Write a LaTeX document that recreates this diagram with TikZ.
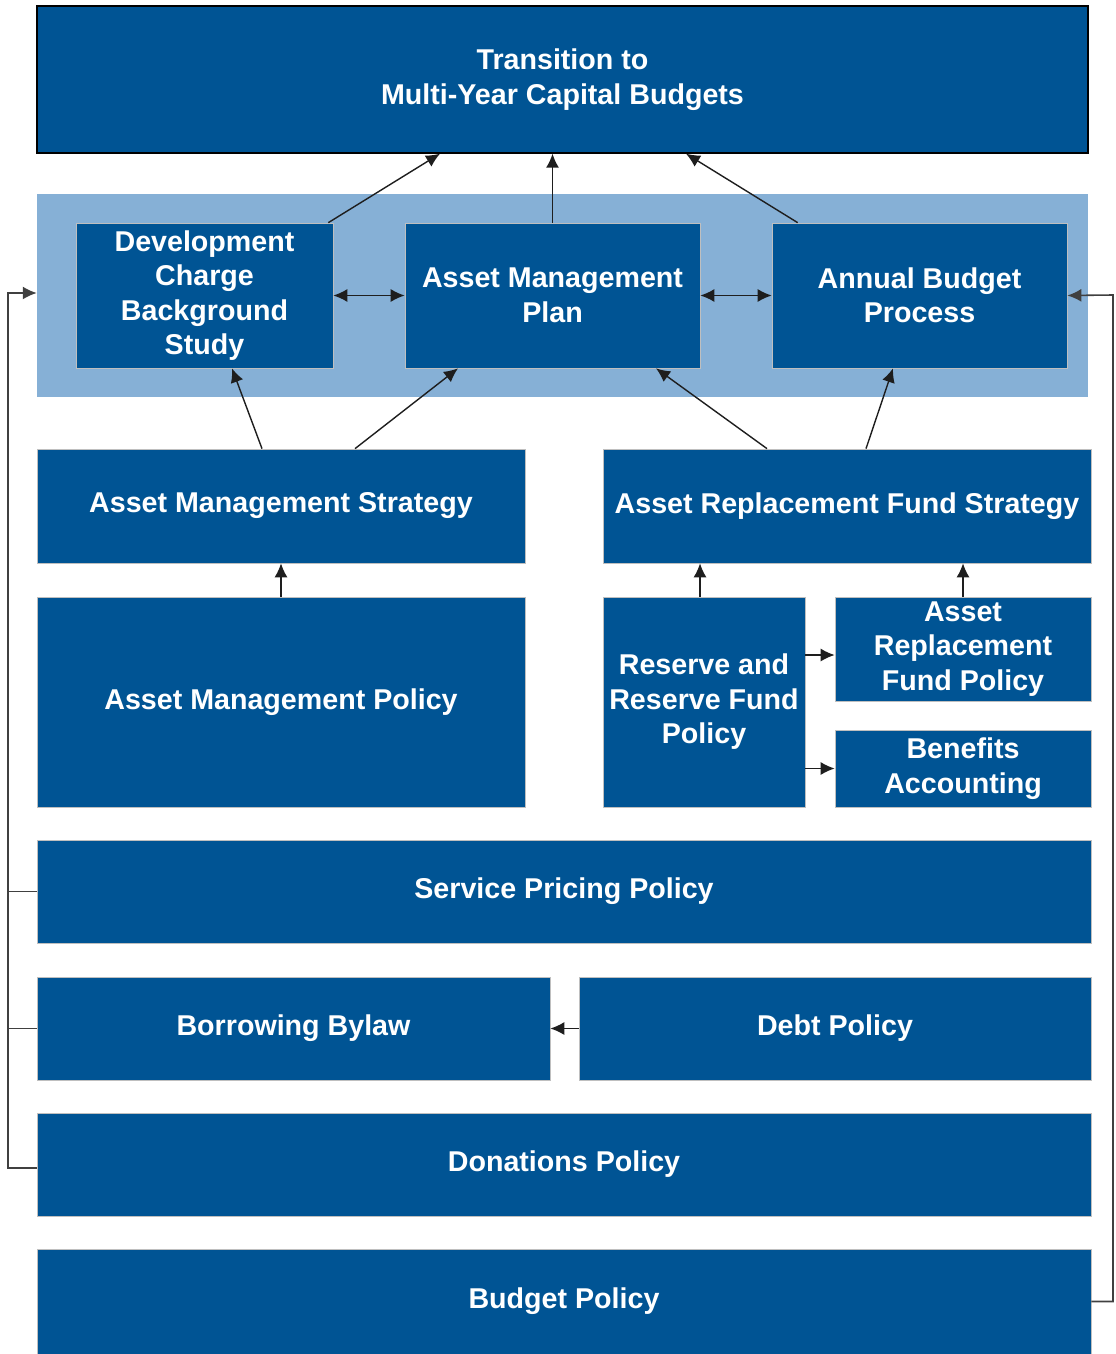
\documentclass[tikz,border=0pt]{standalone}
\usepackage{fontspec}
\setmainfont{Liberation Sans}
\usetikzlibrary{arrows.meta}
\definecolor{navy}{RGB}{0,84,148}
\definecolor{sky}{RGB}{134,176,214}
\definecolor{wire}{RGB}{30,30,30}
\tikzset{
	box/.style={shape=rectangle, fill=navy, draw=black!25, line width=0.4pt, text=white, align=center, inner sep=0pt,
		font=\fontsize{16.3}{19.6}\selectfont\bfseries},
	band/.style={shape=rectangle, fill=sky, inner sep=0pt},
	tip/.style={-{Latex[length=0.28cm,width=0.26cm]}},
	link/.style={draw=wire, line width=0.8pt, tip},
	both/.style={link, {Latex[length=0.28cm,width=0.26cm]}-{Latex[length=0.28cm,width=0.26cm]}},
	bus/.style={draw=wire!85, line width=0.9pt}
}
\begin{document}
\begin{tikzpicture}[x=0.02cm, y=-0.02cm]
	\useasboundingbox (0,0) rectangle (1115,1354);
	% Goal and the planning band:
	\node[box, draw=black, line width=0.8pt, minimum width=21.02cm, minimum height=2.94cm] (goal) at (562.5,79.5) {Transition to\\Multi-Year Capital Budgets};
	\node[band, minimum width=21.02cm, minimum height=4.06cm] (plan) at (562.5,295.5) {};
	\node[box, minimum width=5.14cm, minimum height=2.9cm] (dcbs) at (204.5,295.5) {Development\\Charge\\Background\\Study};
	\node[box, minimum width=5.9cm, minimum height=2.9cm] (amp) at (552.5,295.5) {Asset Management\\Plan};
	\node[box, minimum width=5.9cm, minimum height=2.9cm] (abp) at (919.5,295.5) {Annual Budget\\Process};
	% Strategies and policies:
	\node[box, minimum width=9.76cm, minimum height=2.28cm] (ams) at (281,506) {Asset Management Strategy};
	\node[box, minimum width=9.76cm, minimum height=2.28cm] (arfs) at (847,506) {Asset Replacement Fund Strategy};
	\node[box, minimum width=9.76cm, minimum height=4.2cm] (ampol) at (281,702) {Asset Management Policy};
	\node[box, minimum width=4.04cm, minimum height=4.2cm] (rrfp) at (704,702) {Reserve and\\Reserve Fund\\Policy};
	\node[box, minimum width=5.12cm, minimum height=2.08cm] (arfp) at (963,649) {Asset\\Replacement\\Fund Policy};
	\node[box, minimum width=5.12cm, minimum height=1.54cm] (ben) at (963,768.5) {Benefits\\Accounting};
	\node[box, minimum width=21.08cm, minimum height=2.06cm] (spp) at (564,891.5) {Service Pricing Policy};
	\node[box, minimum width=10.26cm, minimum height=2.06cm] (borrow) at (293.5,1028.5) {Borrowing Bylaw};
	\node[box, minimum width=10.24cm, minimum height=2.06cm] (debt) at (835,1028.5) {Debt Policy};
	\node[box, minimum width=21.08cm, minimum height=2.06cm] (don) at (564,1164.5) {Donations Policy};
	\node[box, minimum width=21.08cm, minimum height=2.1cm] (bud) at (564,1301.5) {Budget Policy};
	\coordinate (lft) at (8,293);
	\coordinate (rgt) at (1113,295);

	% Wires:
	\draw[link] ([xshift=-0.1cm]dcbs.north east) -- ([xshift=-2.45cm]goal.south);
	\draw[link] (amp.north) -- (amp.north |- goal.south);
	\draw[link] ([xshift=0.52cm]abp.north west) -- ([xshift=2.47cm]goal.south);
	\draw[both] (dcbs.east) -- (amp.west);
	\draw[both] (amp.east) -- (abp.west);
	\draw[link] ([xshift=-0.38cm]ams.north) -- ([xshift=0.55cm]dcbs.south);
	\draw[link] ([xshift=1.48cm]ams.north) -- ([xshift=-1.89cm]amp.south);
	\draw[link] ([xshift=-1.6cm]arfs.north) -- ([xshift=2.07cm]amp.south);
	\draw[link] ([xshift=0.38cm]arfs.north) -- ([xshift=-0.53cm]abp.south);
	\draw[link] (ampol.north) -- (ampol.north |- ams.south);
	\draw[link] ([xshift=-0.08cm]rrfp.north) -- ([xshift=-0.08cm]rrfp.north |- arfs.south);
	\draw[link] (arfp.north) -- (arfp.north |- arfs.south);
	\draw[link] ([yshift=0.94cm]rrfp.east) -- ([yshift=0.94cm]rrfp.east -| arfp.west);
	\draw[link] (ben.west -| rrfp.east) -- (ben.west);
	\draw[link] (debt.west) -- (borrow.east);
	\draw[bus] (spp.west) -- (spp.west -| lft);
	\draw[bus] (borrow.west) -- (borrow.west -| lft);
	\draw[bus, tip] ([yshift=-0.07cm]don.west) -| (lft) -- (lft -| plan.west);
	\draw[bus, tip] (bud.east) -| (rgt) -- (abp.east);
\end{tikzpicture}
\end{document}
